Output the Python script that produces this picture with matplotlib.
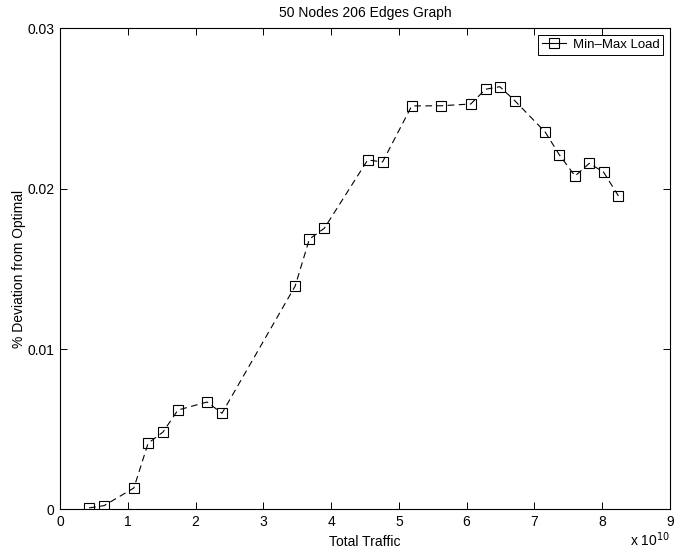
import matplotlib
matplotlib.use('Agg')
import matplotlib.pyplot as plt
from matplotlib.lines import Line2D

plt.rcParams['font.family'] = ['Liberation Sans', 'DejaVu Sans']

# total traffic in units of 1e10
traffic = [0.43, 0.65, 1.09, 1.30, 1.52, 1.74, 2.17, 2.39,
           3.47, 3.68, 3.90, 4.54, 4.76,
           5.19, 5.62, 6.06, 6.28, 6.49, 6.71,
           7.16, 7.37, 7.60, 7.81, 8.02, 8.24]
deviation = [0.0001, 0.00024, 0.00134, 0.00413, 0.00483, 0.0062, 0.0067, 0.0060,
             0.01393, 0.01686, 0.01753, 0.02179, 0.02167,
             0.02516, 0.02517, 0.02528, 0.0262, 0.02636, 0.02549,
             0.02353, 0.0221, 0.02079, 0.02158, 0.02104, 0.01955]
x_ticks = list(range(10))
y_ticks = [0, 0.01, 0.02, 0.03]
y_labels = ['0', '0.01', '0.02', '0.03']

fig = plt.figure(figsize=(6.85, 5.55), dpi=100)
ax = fig.add_axes([0.0876, 0.082, 0.8904, 0.867])

ax.plot(traffic, deviation, linestyle='--', color='black', linewidth=0.8,
        marker='s', markersize=6.5, markerfacecolor='none',
        markeredgecolor='black', markeredgewidth=0.8, dashes=(6, 4))

ax.set_xlim(0, 9)
ax.set_ylim(0, 0.03)
ax.set_xticks(x_ticks)
ax.set_xticklabels([str(t) for t in x_ticks])
ax.set_yticks(y_ticks)
ax.set_yticklabels(y_labels)
ax.tick_params(direction='in', top=True, right=True, length=5, width=0.7,
               labelsize=10, pad=4)
for s in ax.spines.values():
    s.set_linewidth(0.8)

ax.set_title('50 Nodes 206 Edges Graph', fontsize=10, pad=8)
ax.set_xlabel('Total Traffic', fontsize=10, labelpad=4)
ax.set_ylabel('% Deviation from Optimal', fontsize=10, labelpad=1)
fig.text(670 / 685, 1 - 546 / 555, r'x 10$^{10}$', fontsize=10,
         ha='right', va='baseline')

# legend sample drawn like matlab's: short dash, square, short dash
handle = Line2D([], [], linestyle='-', color='black', linewidth=0.8,
                marker='s', markersize=6.5, markerfacecolor='none',
                markeredgecolor='black', markeredgewidth=0.8)
leg = ax.legend([handle], ['Min\u2013Max Load'], loc='upper right',
                fontsize=9.5, handlelength=1.8, handletextpad=0.5,
                borderpad=0.3, borderaxespad=0.5, fancybox=False,
                framealpha=1, edgecolor='black')
leg.get_frame().set_linewidth(0.7)

plt.savefig('out.png', dpi=100)
